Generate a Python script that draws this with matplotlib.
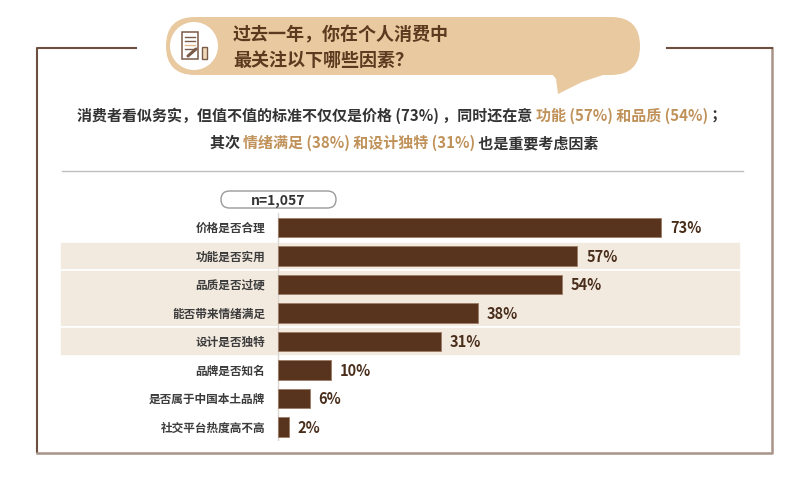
import matplotlib
matplotlib.use("Agg")
import matplotlib.pyplot as plt
from matplotlib.patches import FancyBboxPatch, Circle, Polygon, Rectangle

plt.rcParams['font.family'] = ['Noto Sans CJK SC', 'DejaVu Sans']

# data
categories = ["价格是否合理", "功能是否实用", "品质是否过硬", "能否带来情绪满足",
              "设计是否独特", "品牌是否知名", "是否属于中国本土品牌", "社交平台热度高不高"]
values = [73, 57, 54, 38, 31, 10, 6, 2]
sample_label = "n=1,057"
title_lines = ["过去一年，你在个人消费中", "最关注以下哪些因素？"]
DARK = "#333333"
GOLD = "#C0925A"
subtitle_1 = [("消费者看似务实，但值不值的标准不仅仅是价格 (73%) ，同时还在意 ", DARK),
              ("功能 (57%) 和品质 (54%)", GOLD), (" ；", DARK)]
subtitle_2 = [("其次 ", DARK), ("情绪满足 (38%) 和设计独特 (31%)", GOLD),
              (" 也是重要考虑因素", DARK)]
shaded_rows = [(1, 1), (2, 3), (4, 4)]  # row groups with beige bands

BAR = "#58341f"
BROWN = "#5b3a1f"
BUBBLE = "#E9CAA0"
BAND = "#F3EADF"

W, H = 806, 485
fig = plt.figure(figsize=(W / 100, H / 100), dpi=100)
bg = fig.add_axes([0, 0, 1, 1])
bg.set_xlim(0, W); bg.set_ylim(H, 0); bg.axis('off')

# frame
fc1, fc2 = "#6b5040", "#a89488"
bg.plot([137, 37, 37], [49, 49, 454], color=fc1, lw=1.5, solid_capstyle='butt')
bg.plot([37, 772, 772], [454, 454, 49], color=fc2, lw=1.8)
bg.plot([667, 772], [49, 49], color=fc1, lw=1.5)

# speech bubble
bg.add_patch(FancyBboxPatch((166, 18), 474, 58, boxstyle="round,pad=0,rounding_size=29",
                            fc=BUBBLE, ec='none'))
bg.add_patch(Polygon([(552, 75), (556, 80), (558, 95), (582, 83), (606, 75)],
                     closed=True, fc=BUBBLE, ec='none'))
bg.add_patch(Circle((194, 47), 24, fc='white', ec='none'))
# icon
bg.add_patch(Rectangle((182, 33), 16, 27, fc='white', ec='#7a5a48', lw=1.1))
for yy, c in [(38, '#7a5a48'), (42, '#7a5a48'), (46, '#e3b98a'), (50, '#7a5a48')]:
    bg.plot([185, 195], [yy, yy], color=c, lw=1)
bg.plot([188, 196], [57, 50], color='#7a5a48', lw=2.2, solid_capstyle='round')
bg.add_patch(Rectangle((202, 48), 5, 12, fc='#f1d9b8', ec='#7a5a48', lw=1))

for i, line in enumerate(title_lines):
    bg.text(233, 35 + i * 25, line, fontsize=13, fontweight='bold', color=BROWN,
            ha='left', va='center')

# subtitle with colored parts
renderer = fig.canvas.get_renderer()


def rich_line(pieces, cx, y):
    items = []
    for s, c in pieces:
        t = bg.text(0, y, s, color=c, fontsize=10.8, fontweight='bold',
                    ha='left', va='center')
        items.append((t, t.get_window_extent(renderer).width))
    x = cx - sum(w for _, w in items) / 2
    for t, w in items:
        t.set_x(x)
        x += w


rich_line(subtitle_1, 402, 116)
rich_line(subtitle_2, 404, 143)

bg.plot([62, 743], [172, 172], color='#bdbdbd', lw=1)

# sample size pill
bg.add_patch(FancyBboxPatch((221, 192), 115, 17, boxstyle="round,pad=0,rounding_size=8.5",
                            fc='white', ec='#9a9a9a', lw=1))
bg.text(278.5, 201, sample_label, fontsize=10, color=DARK, ha='center', va='center',
        fontweight='bold')

# bar chart axes: 1% = 5.25px, zero at x=278px
px = 5.25
left_px, right_px = 60, 741
ax = fig.add_axes([left_px / W, 1 - 442.25 / H, (right_px - left_px) / W, 228 / H])
ax.set_facecolor('none')
ax.set_xlim((left_px - 278) / px, (right_px - 278) / px)
ax.set_ylim(len(values) - 0.5, -0.5)
ax.axis('off')

for a, b in shaded_rows:
    ax.axhspan(a - 0.5, b + 0.5, color=BAND, ec='white', lw=1.2, zorder=0)
ax.axvline(0, color='#dcd6d0', lw=1, zorder=1)

rows = range(len(values))
ax.barh(rows, values, height=0.67, color=BAR, edgecolor='#9c7c66', linewidth=0.6, zorder=2)
for i, (cat, v) in enumerate(zip(categories, values)):
    ax.text(-13 / px, i, cat, ha='right', va='center', fontsize=8.4, color='#3c3c3c',
            fontweight='bold')
    ax.text(v + 9 / px, i, f"{v}%", ha='left', va='center', fontsize=10.5,
            fontweight='bold', color='#4a2e1c')

fig.savefig("out.png", dpi=100)
